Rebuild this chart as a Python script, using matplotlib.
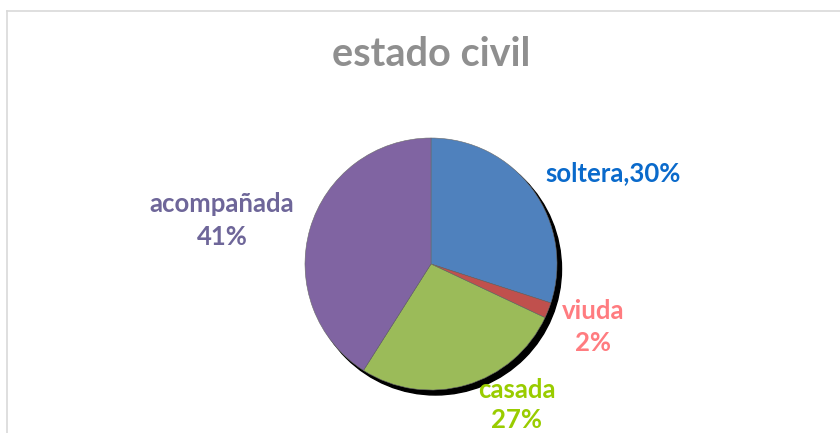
import matplotlib
matplotlib.use("Agg")
import matplotlib.pyplot as plt
from matplotlib.patches import Circle
from matplotlib.lines import Line2D

categories = ["soltera", "viuda", "casada", "acompañada"]
values = [30, 2, 27, 41]
wedge_colors = ["#4F81BD", "#C0504D", "#9BBB59", "#8064A2"]
label_colors = ["#0A6ACB", "#FF7C80", "#99CC00", "#6E6699"]
title = "estado civil"

W, H = 840, 433
fig = plt.figure(figsize=(W / 100, H / 100), dpi=100)
fig.patch.set_facecolor("white")

# frame lines
fig.add_artist(Line2D([6.5 / W, 1.0], [1 - 10.5 / H, 1 - 10.5 / H], transform=fig.transFigure,
                      color="#D9D9D9", lw=1.2))
fig.add_artist(Line2D([6.5 / W, 6.5 / W], [0, 1 - 10.5 / H], transform=fig.transFigure,
                      color="#D9D9D9", lw=1.2))

cx, cy, R = 431, 264, 126
half = 150
ax = fig.add_axes([(cx - half) / W, (H - cy - half) / H, 2 * half / W, 2 * half / H])
ax.axis("off")

# shadow
dx, dy = 4.5 / R, -5.0 / R
ax.add_patch(Circle((dx, dy), 1.0, color="#000000", zorder=0))

wedges, _ = ax.pie(values, colors=wedge_colors, startangle=90, counterclock=False,
                   radius=1.0, wedgeprops=dict(linewidth=0.4, edgecolor="#6a6a6a"))
for w in wedges:
    w.set_zorder(2)
ax.set_xlim(-half / R, half / R)
ax.set_ylim(-half / R, half / R)

font = ["Lato", "DejaVu Sans"]
fig.text(431 / W, 1 - 55 / H, title, ha="center", va="center", fontsize=28.5,
         fontweight="bold", color="#8F8F8F", family=font)

fs = 18.5
def lab(x, y, s, c):
    fig.text(x / W, 1 - y / H, s, ha="center", va="center", fontsize=fs,
             fontweight="bold", color=c, family=font)

lab(613, 173, f"{categories[0]},{values[0]}%", label_colors[0])
lab(593, 311, categories[1], label_colors[1])
lab(593, 343, f"{values[1]}%", label_colors[1])
lab(517, 390, categories[2], label_colors[2])
lab(517, 420, f"{values[2]}%", label_colors[2])
lab(222, 204, categories[3], label_colors[3])
lab(222, 237, f"{values[3]}%", label_colors[3])

fig.savefig("out.png", dpi=100)
